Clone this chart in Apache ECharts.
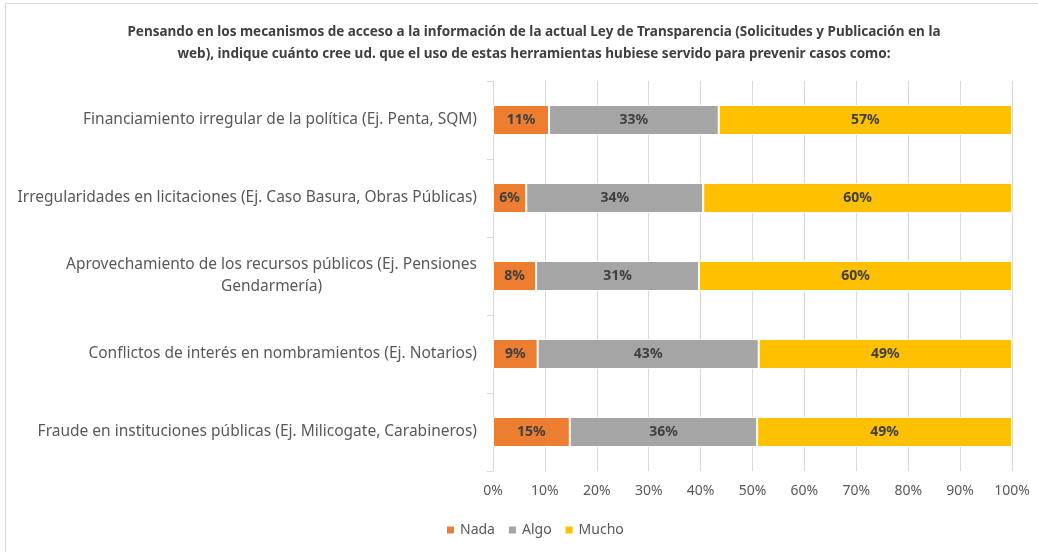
<!DOCTYPE html>
<html lang="es">
<head>
    <meta charset="utf-8"/>
    <title>Ley de Transparencia</title>
    <script src="https://cdn.jsdelivr.net/npm/echarts@6/dist/echarts.min.js"></script>
    <style>
        html, body { margin: 0; padding: 0; background: #fff; }
        #frame { position: absolute; left: 5px; top: 3px; width: 1040px; height: 560px; border: 1px solid #d9d9d9; }
        #chart { position: absolute; left: 0; top: 0; width: 1038px; height: 552px; }
    </style>
</head>
<body>
<div id="frame"></div>
<div id="chart"></div>
<script>
    // categorías (de arriba a abajo)
    var categories = [
        'Financiamiento irregular de la política (Ej. Penta, SQM)',
        'Irregularidades en licitaciones (Ej. Caso Basura, Obras Públicas)',
        'Aprovechamiento de los recursos públicos (Ej. Pensiones\nGendarmería)',
        'Conflictos de interés en nombramientos (Ej. Notarios)',
        'Fraude en instituciones públicas (Ej. Milicogate, Carabineros)'
    ];
    var seriesNames = ['Nada', 'Algo', 'Mucho'];
    // porcentajes
    var nada  = [10.8, 6.4, 8.3, 8.6, 14.8];
    var algo  = [32.7, 34.1, 31.4, 42.6, 36.1];
    var mucho = [56.5, 59.5, 60.3, 48.8, 49.1];
    var xTicks = [0, 10, 20, 30, 40, 50, 60, 70, 80, 90, 100];

    var colors = ['#ED7D31', '#A5A5A5', '#FFC000'];
    var labelFont = '"Noto Sans", sans-serif';
    var catSize = 15.5;

    // ancho de la primera línea para centrar la segunda (como Excel)
    var ctx = document.createElement('canvas').getContext('2d');
    ctx.font = catSize + 'px ' + labelFont;
    var wrapWidth = Math.ceil(ctx.measureText(categories[2].split('\n')[0]).width);

    var chart = echarts.init(document.getElementById('chart'));

    var makeSeries = function (name, data, color) {
        return {
            name: name,
            type: 'bar',
            stack: 'total',
            barWidth: 30,
            data: data,
            itemStyle: { color: color, borderColor: '#ffffff', borderWidth: 1 },
            label: {
                show: true,
                position: 'inside',
                color: '#404040',
                fontWeight: 'bold',
                fontSize: 14,
                fontFamily: labelFont,
                formatter: function (p) { return Math.round(p.value) + '%'; }
            }
        };
    };

    var option = {
        animation: false,
        title: {
            text: 'Pensando en los mecanismos de acceso a la información de la actual Ley de Transparencia (Solicitudes y Publicación en la\nweb), indique cuánto cree ud. que el uso de estas herramientas hubiese servido para prevenir casos como:',
            left: 529,
            textAlign: 'center',
            top: 16,
            textStyle: {
                color: '#404040',
                fontSize: 13.5,
                fontWeight: 'bold',
                fontFamily: labelFont,
                lineHeight: 22,
                align: 'center'
            }
        },
        legend: {
            data: seriesNames,
            left: 440,
            top: 518,
            itemWidth: 9,
            itemHeight: 9,
            itemGap: 12,
            icon: 'rect',
            textStyle: { color: '#595959', fontSize: 14, fontFamily: labelFont }
        },
        grid: { left: 493, right: 26, top: 81, bottom: 81 },
        xAxis: {
            type: 'value',
            min: 0,
            max: 100,
            interval: 10,
            axisLine: { show: false },
            axisTick: { show: false },
            splitLine: { lineStyle: { color: '#d9d9d9' } },
            axisLabel: {
                color: '#595959',
                fontSize: 14,
                fontFamily: labelFont,
                margin: 13,
                formatter: function (v) { return xTicks.indexOf(v) >= 0 ? v + '%' : ''; }
            }
        },
        yAxis: {
            type: 'category',
            inverse: true,
            data: categories,
            axisLine: { show: true, lineStyle: { color: '#d9d9d9' } },
            axisTick: { show: true, length: 6, lineStyle: { color: '#d9d9d9' } },
            axisLabel: {
                color: '#595959',
                fontSize: catSize,
                fontFamily: labelFont,
                margin: 16,
                lineHeight: 22,
                formatter: function (v) {
                    var lines = v.split('\n');
                    if (lines.length < 2) return v;
                    return lines.map(function (l) { return '{c|' + l + '}'; }).join('\n');
                },
                rich: {
                    c: {
                        width: wrapWidth,
                        align: 'center',
                        color: '#595959',
                        fontSize: catSize,
                        fontFamily: labelFont,
                        lineHeight: 22
                    }
                }
            }
        },
        series: [
            makeSeries(seriesNames[0], nada, colors[0]),
            makeSeries(seriesNames[1], algo, colors[1]),
            makeSeries(seriesNames[2], mucho, colors[2])
        ]
    };
    chart.setOption(option);
</script>
</body>
</html>
